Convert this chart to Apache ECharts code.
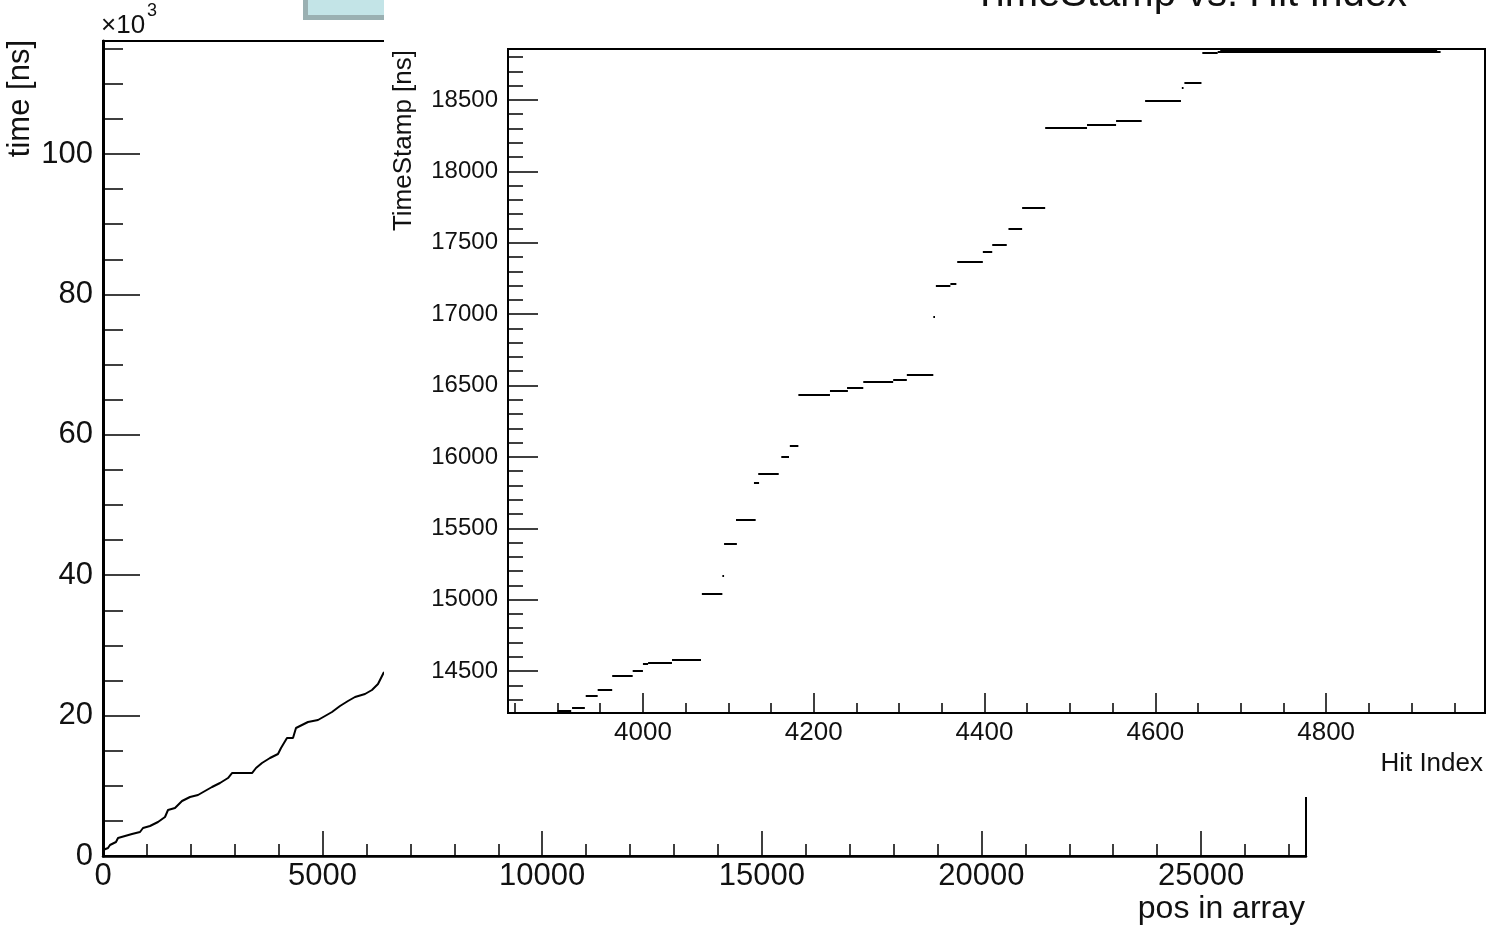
<!DOCTYPE html>
<html>
<head>
<meta charset="utf-8">
<title>TimeStamp vs. Hit Index</title>
<script src="https://cdn.jsdelivr.net/npm/echarts@6.0.0/dist/echarts.min.js"></script>
<style>
html, body { margin: 0; padding: 0; background: #fff; overflow: hidden; }
#mainChart { position: absolute; left: 0; top: 0; width: 1486px; height: 925px; }
#zoomChart { position: absolute; left: 384px; top: 0; width: 1102px; height: 797px; background: #fff; }
</style>
</head>
<body>
<div id="mainChart"></div>
<div id="zoomChart"></div>
<script>
// whole array: time vs position (only the start is not hidden by the zoom pad)
var posInArray = [0, 114, 159, 296, 342, 501, 660, 842, 911, 1070, 1252, 1412, 1480, 1639, 1799, 1981, 2163, 2322, 2482, 2664, 2846, 2937, 3393, 3484, 3620, 3802, 3984, 4053, 4121, 4189, 4326, 4394, 4485, 4667, 4895, 5055, 5214, 5396, 5578, 5738, 5965, 6124, 6261, 6398];
var timeNs = [855, 1140, 1567, 1994, 2564, 2849, 3134, 3419, 3989, 4274, 4843, 5556, 6553, 6838, 7835, 8405, 8689, 9259, 9829, 10399, 11111, 11823, 11823, 12536, 13248, 13960, 14530, 15385, 16097, 16809, 16809, 18234, 18519, 19088, 19373, 19943, 20513, 21368, 22080, 22650, 23077, 23647, 24501, 26211];
var posLabels = [0, 5000, 10000, 15000, 20000, 25000];
var timeLabels = [0, 20000, 40000, 60000, 80000, 100000];

// zoomed view: runs of hits sharing one time stamp
var runStart = [3900, 3917, 3933, 3947, 3964, 3988, 4000, 4006, 4034, 4069, 4093, 4095, 4109, 4130, 4135, 4162, 4172, 4182, 4219, 4239, 4258, 4293, 4309, 4340, 4343, 4360, 4368, 4398, 4409, 4428, 4444, 4471, 4520, 4554, 4588, 4631, 4634, 4655, 4673, 4676];
var runEnd = [3916, 3932, 3947, 3964, 3988, 4000, 4006, 4034, 4068, 4093, 4095, 4110, 4132, 4136, 4159, 4171, 4182, 4219, 4240, 4258, 4293, 4309, 4340, 4342, 4360, 4367, 4398, 4409, 4426, 4444, 4471, 4520, 4554, 4584, 4630, 4633, 4654, 4673, 4934, 4930];
var runTime = [14220, 14243, 14330, 14367, 14465, 14500, 14549, 14561, 14577, 15044, 15166, 15390, 15563, 15822, 15882, 16004, 16078, 16438, 16461, 16487, 16525, 16539, 16574, 16980, 17199, 17213, 17365, 17435, 17484, 17596, 17743, 18304, 18323, 18353, 18495, 18584, 18621, 18831, 18838, 18850];
var hitLabels = [4000, 4200, 4400, 4600, 4800];
var stampLabels = [14500, 15000, 15500, 16000, 16500, 17000, 17500, 18000, 18500];

var FONT = '"Liberation Sans", Arial, Helvetica, sans-serif';

function stepValues(from, to, step) {
	var out = [];
	for (var v = from; v <= to; v += step) {
		out.push(v);
	}
	return out;
}

function pairs(xs, ys) {
	var out = [];
	for (var i = 0; i < xs.length; i++) {
		out.push([xs[i], ys[i]]);
	}
	return out;
}

function plainNumber(v) {
	return String(v);
}

function rootText(x, y, text, size, align, rot) {
	return {
		type: 'text', x: x, y: y, rotation: rot || 0,
		style: {
			text: text, font: size + 'px ' + FONT, fill: '#111',
			align: align, textAlign: align, verticalAlign: 'middle', textVerticalAlign: 'middle'
		}
	};
}

function rootAxis(dim, min, max, labels, minor, opt) {
	var major = {
		type: 'value', min: min, max: max,
		axisLine: { show: true, onZero: false, lineStyle: { color: '#000', width: opt.lineWidth } },
		axisTick: { show: true, inside: true, length: opt.majorLen, customValues: labels, lineStyle: { color: '#000', width: 1.5 } },
		axisLabel: { show: true, customValues: labels, margin: opt.margin, fontSize: opt.fontSize, fontFamily: FONT, color: '#111', formatter: opt.formatter || plainNumber },
		splitLine: { show: false }
	};
	var small = {
		type: 'value', min: min, max: max, position: dim == 'x' ? 'bottom' : 'left',
		axisLine: { show: false },
		axisTick: { show: true, inside: true, length: opt.minorLen, customValues: minor, lineStyle: { color: '#000', width: 1.5 } },
		axisLabel: { show: false },
		splitLine: { show: false }
	};
	return [major, small];
}

function showMainChart() {
	var chart = echarts.init(document.getElementById('mainChart'));
	var option = {
		animation: false,
		backgroundColor: '#fff',
		grid: { left: 103, top: 41, width: 1203, height: 815, show: true, borderColor: '#000', borderWidth: 2, containLabel: false },
		xAxis: rootAxis('x', 0, 27390, posLabels, stepValues(1000, 27000, 1000),
			{ lineWidth: 2.5, majorLen: 25, minorLen: 12, margin: 5, fontSize: 31 }),
		yAxis: rootAxis('y', 0, 116100, timeLabels, stepValues(5000, 115000, 5000),
			{ lineWidth: 3, majorLen: 37, minorLen: 20, margin: 10, fontSize: 31, formatter: function (v) { return String(v / 1000); } }),
		series: [{
			type: 'line',
			xAxisIndex: 0, yAxisIndex: 0,
			data: pairs(posInArray, timeNs),
			showSymbol: false,
			lineStyle: { color: '#000', width: 2 }
		}],
		graphic: [
			{ type: 'rect', shape: { x: 303, y: -5, width: 100, height: 25 }, style: { fill: '#9ab0b2' } },
			{ type: 'rect', shape: { x: 308, y: -5, width: 95, height: 20 }, style: { fill: '#c3e4e7' } },
			rootText(101, 26, '\u00d710', 26, 'left'),
			rootText(147, 11, '3', 18, 'left'),
			rootText(20, 40, 'time [ns]', 31, 'right', Math.PI / 2),
			rootText(1305, 909, 'pos in array', 32, 'right')
		]
	};
	chart.setOption(option);
}

function showZoomChart() {
	var chart = echarts.init(document.getElementById('zoomChart'));
	var runs = [];
	for (var i = 0; i < runStart.length; i++) {
		runs.push({ coords: [[runStart[i], runTime[i]], [runEnd[i], runTime[i]]] });
	}
	var option = {
		animation: false,
		backgroundColor: '#fff',
		grid: { left: 124, top: 49, width: 977, height: 664, show: true, borderColor: '#000', borderWidth: 2, containLabel: false },
		xAxis: rootAxis('x', 3842, 4986, hitLabels, stepValues(3850, 4950, 50),
			{ lineWidth: 2, majorLen: 20, minorLen: 10, margin: 7, fontSize: 26 }),
		yAxis: rootAxis('y', 14206, 18857, stampLabels, stepValues(14300, 18800, 100),
			{ lineWidth: 2, majorLen: 30, minorLen: 15, margin: 10, fontSize: 24 }),
		series: [{
			type: 'lines',
			coordinateSystem: 'cartesian2d',
			xAxisIndex: 0, yAxisIndex: 0,
			data: runs,
			lineStyle: { color: '#000', width: 2, opacity: 1 }
		}],
		graphic: [
			rootText(806, -5, 'TimeStamp vs. Hit Index', 40, 'center'),
			rootText(20, 50, 'TimeStamp [ns]', 26, 'right', Math.PI / 2),
			rootText(1099, 764, 'Hit Index', 26, 'right')
		]
	};
	chart.setOption(option);
}

showMainChart();
showZoomChart();
</script>
</body>
</html>
